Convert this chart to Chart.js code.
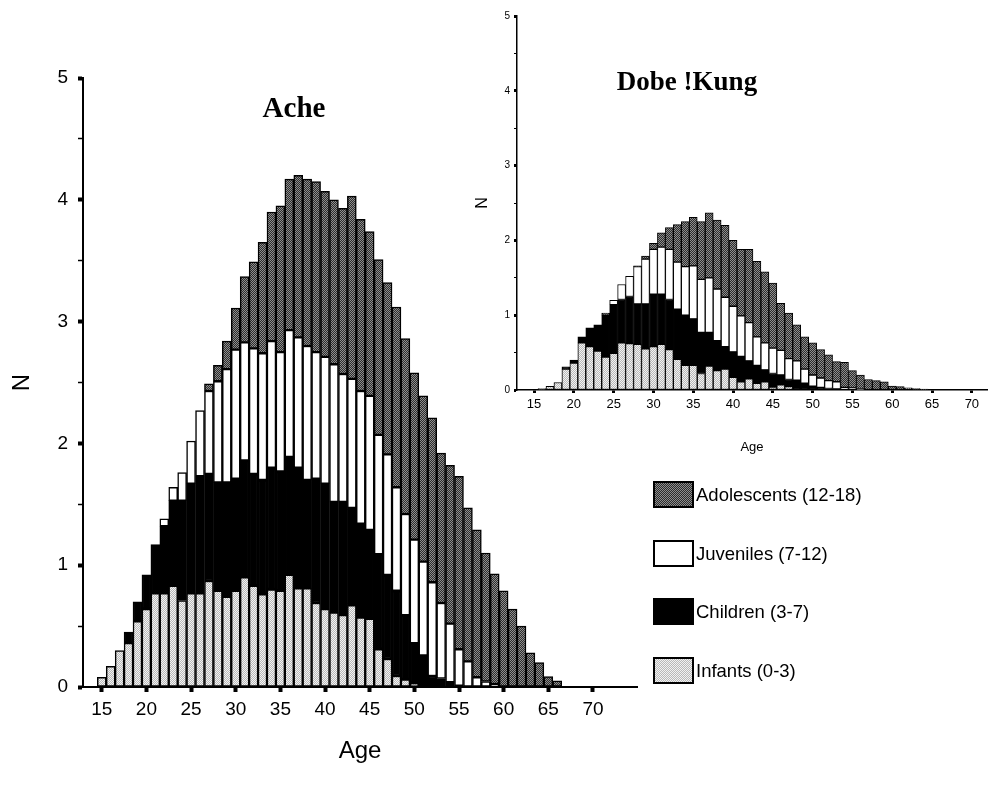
<!DOCTYPE html>
<html><head><meta charset="utf-8">
<script src="https://cdn.jsdelivr.net/npm/chart.js@4.4.1/dist/chart.umd.min.js"></script>
<style>
html,body{margin:0;padding:0;background:#fff;}
body{width:1005px;height:794px;position:relative;overflow:hidden;font-family:"Liberation Sans",Arial,sans-serif;}
canvas{position:absolute;}
#main{left:0;top:0;}
#inset{left:460px;top:0;}
.title{position:absolute;font-family:"Liberation Serif","Times New Roman",serif;font-weight:bold;color:#000;white-space:nowrap;transform:translate(-50%,-50%);}
.leg{position:absolute;left:653px;height:27px;display:flex;align-items:center;}
.leg .box{width:37px;height:23px;border:2px solid #000;image-rendering:pixelated;background-size:2px 2px;}
.leg span{font-size:18.5px;margin-left:2px;color:#000;white-space:nowrap;}
</style></head><body>
<canvas id="main" width="660" height="794"></canvas>
<canvas id="inset" width="545" height="470"></canvas>
<div class="title" style="left:294px;top:107px;font-size:29px;">Ache</div>
<div class="title" style="left:687px;top:81px;font-size:27px;">Dobe !Kung</div>
<div id="legend"></div>
<script>
// ---------- Data ----------
const acheAges = [15,16,17,18,19,20,21,22,23,24,25,26,27,28,29,30,31,32,33,34,35,36,37,38,39,40,41,42,43,44,45,46,47,48,49,50,51,52,53,54,55,56,57,58,59,60,61,62,63,64,65,66];
const acheInfants = [0.08,0.17,0.30,0.36,0.54,0.64,0.77,0.77,0.83,0.71,0.77,0.77,0.87,0.79,0.74,0.79,0.90,0.83,0.76,0.80,0.79,0.92,0.81,0.81,0.69,0.64,0.61,0.59,0.67,0.57,0.56,0.31,0.23,0.09,0.06,0.03,0,0,0,0,0,0,0,0,0,0,0,0,0,0,0,0];
const acheChildren = [0,0,0,0.09,0.16,0.28,0.40,0.55,0.70,0.82,0.90,0.96,0.88,0.89,0.94,0.92,0.96,0.92,0.94,1.00,0.98,0.97,0.99,0.89,1.02,1.03,0.91,0.93,0.80,0.77,0.73,0.78,0.69,0.70,0.53,0.33,0.26,0.09,0.07,0.04,0.01,0,0,0,0,0,0,0,0,0,0,0];
const acheJuveniles = [0,0,0,0,0,0,0,0.06,0.11,0.23,0.35,0.54,0.68,0.83,0.93,1.06,0.97,1.03,1.04,1.04,0.98,1.04,1.07,1.10,1.04,1.04,1.13,1.05,1.06,1.09,1.10,0.98,0.99,0.85,0.83,0.85,0.77,0.77,0.62,0.48,0.30,0.21,0.08,0.045,0.025,0,0,0,0,0,0,0];
const acheAdolescents = [0,0,0,0,0,0,0,0,0,0,0,0,0.06,0.13,0.23,0.34,0.54,0.71,0.91,1.06,1.20,1.24,1.33,1.37,1.40,1.36,1.35,1.36,1.50,1.41,1.35,1.44,1.41,1.48,1.44,1.37,1.36,1.35,1.23,1.30,1.42,1.26,1.21,1.055,0.905,0.79,0.64,0.50,0.28,0.20,0.085,0.05];

const kungAges = [16,17,18,19,20,21,22,23,24,25,26,27,28,29,30,31,32,33,34,35,36,37,38,39,40,41,42,43,44,45,46,47,48,49,50,51,52,53,54,55,56,57,58,59,60,61,62,63,64];
const kungInfants = [0.02,0.05,0.10,0.28,0.36,0.63,0.58,0.52,0.44,0.49,0.63,0.62,0.61,0.55,0.58,0.61,0.54,0.41,0.33,0.33,0.22,0.32,0.26,0.28,0.17,0.11,0.15,0.09,0.11,0.04,0.07,0.045,0,0,0,0,0,0,0,0,0,0,0,0,0,0,0,0,0];
const kungChildren = [0,0,0,0.03,0.04,0.08,0.25,0.35,0.56,0.65,0.58,0.63,0.54,0.60,0.70,0.67,0.67,0.67,0.67,0.62,0.55,0.45,0.40,0.30,0.34,0.34,0.24,0.24,0.16,0.18,0.13,0.095,0.13,0.09,0.05,0.036,0.02,0.013,0,0,0,0,0,0,0,0,0,0,0];
const kungJuveniles = [0,0,0,0,0,0,0,0,0,0.06,0.20,0.27,0.50,0.60,0.60,0.63,0.67,0.63,0.65,0.71,0.71,0.73,0.69,0.66,0.61,0.54,0.51,0.38,0.36,0.34,0.33,0.28,0.26,0.19,0.15,0.124,0.105,0.097,0.036,0.027,0.018,0,0,0,0,0,0,0,0];
const kungAdolescents = [0,0,0,0,0,0,0,0,0.03,0,0,0,0.01,0.04,0.08,0.19,0.29,0.50,0.60,0.65,0.77,0.87,0.92,0.96,0.88,0.89,0.98,1.01,0.95,0.87,0.63,0.61,0.48,0.43,0.43,0.38,0.345,0.27,0.334,0.233,0.182,0.14,0.125,0.11,0.054,0.045,0.03,0.02,0.013];

const ageTicks = [15,20,25,30,35,40,45,50,55,60,65,70];
const nTicks = [0,0.5,1,1.5,2,2.5,3,3.5,4,4.5,5];
const seriesNames = ['Infants (0-3)','Children (3-7)','Juveniles (7-12)','Adolescents (12-18)'];

// ---------- Styling helpers ----------
const FONT = '"Liberation Sans", Arial, sans-serif';
function checker(c1, c2){
  const cv = document.createElement('canvas'); cv.width = 2; cv.height = 2;
  const x = cv.getContext('2d');
  x.fillStyle = c1; x.fillRect(0,0,2,2);
  x.fillStyle = c2; x.fillRect(0,0,1,1); x.fillRect(1,1,1,1);
  return cv;
}
const adolTile = checker('#2c2c2c', '#8e8e8e');
const infTile = checker('#b9b9b9', '#f2f2f2');

function buildDatasets(ctx, ages, inf, ch, juv, adol, bw){
  const pAd = ctx.createPattern(adolTile, 'repeat');
  const pIn = ctx.createPattern(infTile, 'repeat');
  const mk = (label, vals, bg) => ({
    label, data: ages.map((a,i) => ({x:a, y:vals[i]})),
    backgroundColor: bg, borderColor:'#000', borderWidth: bw, borderSkipped:false,
    barPercentage:1, categoryPercentage:1, stack:'a'
  });
  return [mk(seriesNames[0], inf, pIn), mk(seriesNames[1], ch, '#000'),
          mk(seriesNames[2], juv, '#fff'), mk(seriesNames[3], adol, pAd)];
}

function makeScales(o){
  return {
    x: {
      type:'linear', min:o.xmin, max:o.xmax, offset:false, bounds:'data',
      grid:{display:true, drawOnChartArea:false, drawTicks:true, offset:false,
            tickLength:o.xTickLen, tickWidth:o.xTickW, tickColor:'#000'},
      border:{display:true, color:'#000', width:o.axisW},
      afterBuildTicks: s => { s.ticks = ageTicks.map(v => ({value:v})); },
      afterFit: s => { s.height = o.xH; },
      ticks:{autoSkip:false, maxRotation:0, minRotation:0, color:'#000',
             font:{family:FONT, size:o.xFont}, padding:o.xPad, callback: v => String(v)},
      title:{display:true, text:'Age', color:'#000', font:{family:FONT, size:o.xTitle},
             padding:{top:0, bottom:o.xTitlePad}}
    },
    y: {
      type:'linear', min:0, max:5, stacked:true, bounds:'data',
      grid:{display:true, drawOnChartArea:false, drawTicks:true,
            tickLength:o.yTickLen, tickColor:'#000',
            tickWidth: c => (c.tick && c.tick.value % 1 === 0) ? o.yMajW : o.yMinW},
      border:{display:true, color:'#000', width:o.axisW},
      afterBuildTicks: s => { s.ticks = nTicks.map(v => ({value:v})); },
      afterFit: s => { s.width = o.yW; },
      ticks:{autoSkip:false, color:'#000', font:{family:FONT, size:o.yFont}, padding:o.yPad,
             callback: v => (v % 1 === 0 ? String(v) : '')},
      title:{display:true, text:'N', color:'#000', font:{family:FONT, size:o.yTitle},
             padding:{top:o.yTitlePad, bottom:0}}
    }
  };
}

function makeChart(id, ages, inf, ch, juv, adol, bw, padding, o){
  const ctx = document.getElementById(id).getContext('2d');
  return new Chart(ctx, {
    type:'bar',
    data:{ datasets: buildDatasets(ctx, ages, inf, ch, juv, adol, bw) },
    options:{
      responsive:false, animation:false, devicePixelRatio:1,
      layout:{padding},
      plugins:{legend:{display:false}, tooltip:{enabled:false}, title:{display:false}},
      scales: makeScales(o)
    }
  });
}

// Main (Ache) chart
makeChart('main', acheAges, acheInfants, acheChildren, acheJuveniles, acheAdolescents, 1.5,
  {left:0, top:78, right:23, bottom:0},
  {xmin:12.9, xmax:74.93, xTickLen:5, xTickW:4, axisW:2, xH:107, xFont:19, xPad:6, xTitle:24, xTitlePad:28,
   yTickLen:5, yMajW:4, yMinW:1.5, yW:83, yFont:19, yPad:10, yTitle:24, yTitlePad:8});

// Inset (Dobe !Kung) chart
makeChart('inset', kungAges, kungInfants, kungChildren, kungJuveniles, kungAdolescents, 1,
  {left:0, top:16, right:18, bottom:0},
  {xmin:12.86, xmax:71.9, xTickLen:3, xTickW:3, axisW:1.5, xH:80, xFont:13, xPad:4, xTitle:13, xTitlePad:15,
   yTickLen:3, yMajW:3, yMinW:1, yW:57, yFont:10, yPad:4, yTitle:16, yTitlePad:13});

// Legend (HTML)
const legendRows = [
  {name: seriesNames[3], top:481, bg: 'url(' + adolTile.toDataURL() + ')'},
  {name: seriesNames[2], top:540, bg: '#fff'},
  {name: seriesNames[1], top:598, bg: '#000'},
  {name: seriesNames[0], top:657, bg: 'url(' + infTile.toDataURL() + ')'}
];
const legendEl = document.getElementById('legend');
legendRows.forEach(r => {
  const row = document.createElement('div');
  row.className = 'leg'; row.style.top = r.top + 'px';
  const box = document.createElement('div'); box.className = 'box'; box.style.background = r.bg;
  box.style.backgroundSize = '2px 2px';
  const t = document.createElement('span'); t.textContent = r.name;
  row.appendChild(box); row.appendChild(t); legendEl.appendChild(row);
});
</script>
</body></html>
